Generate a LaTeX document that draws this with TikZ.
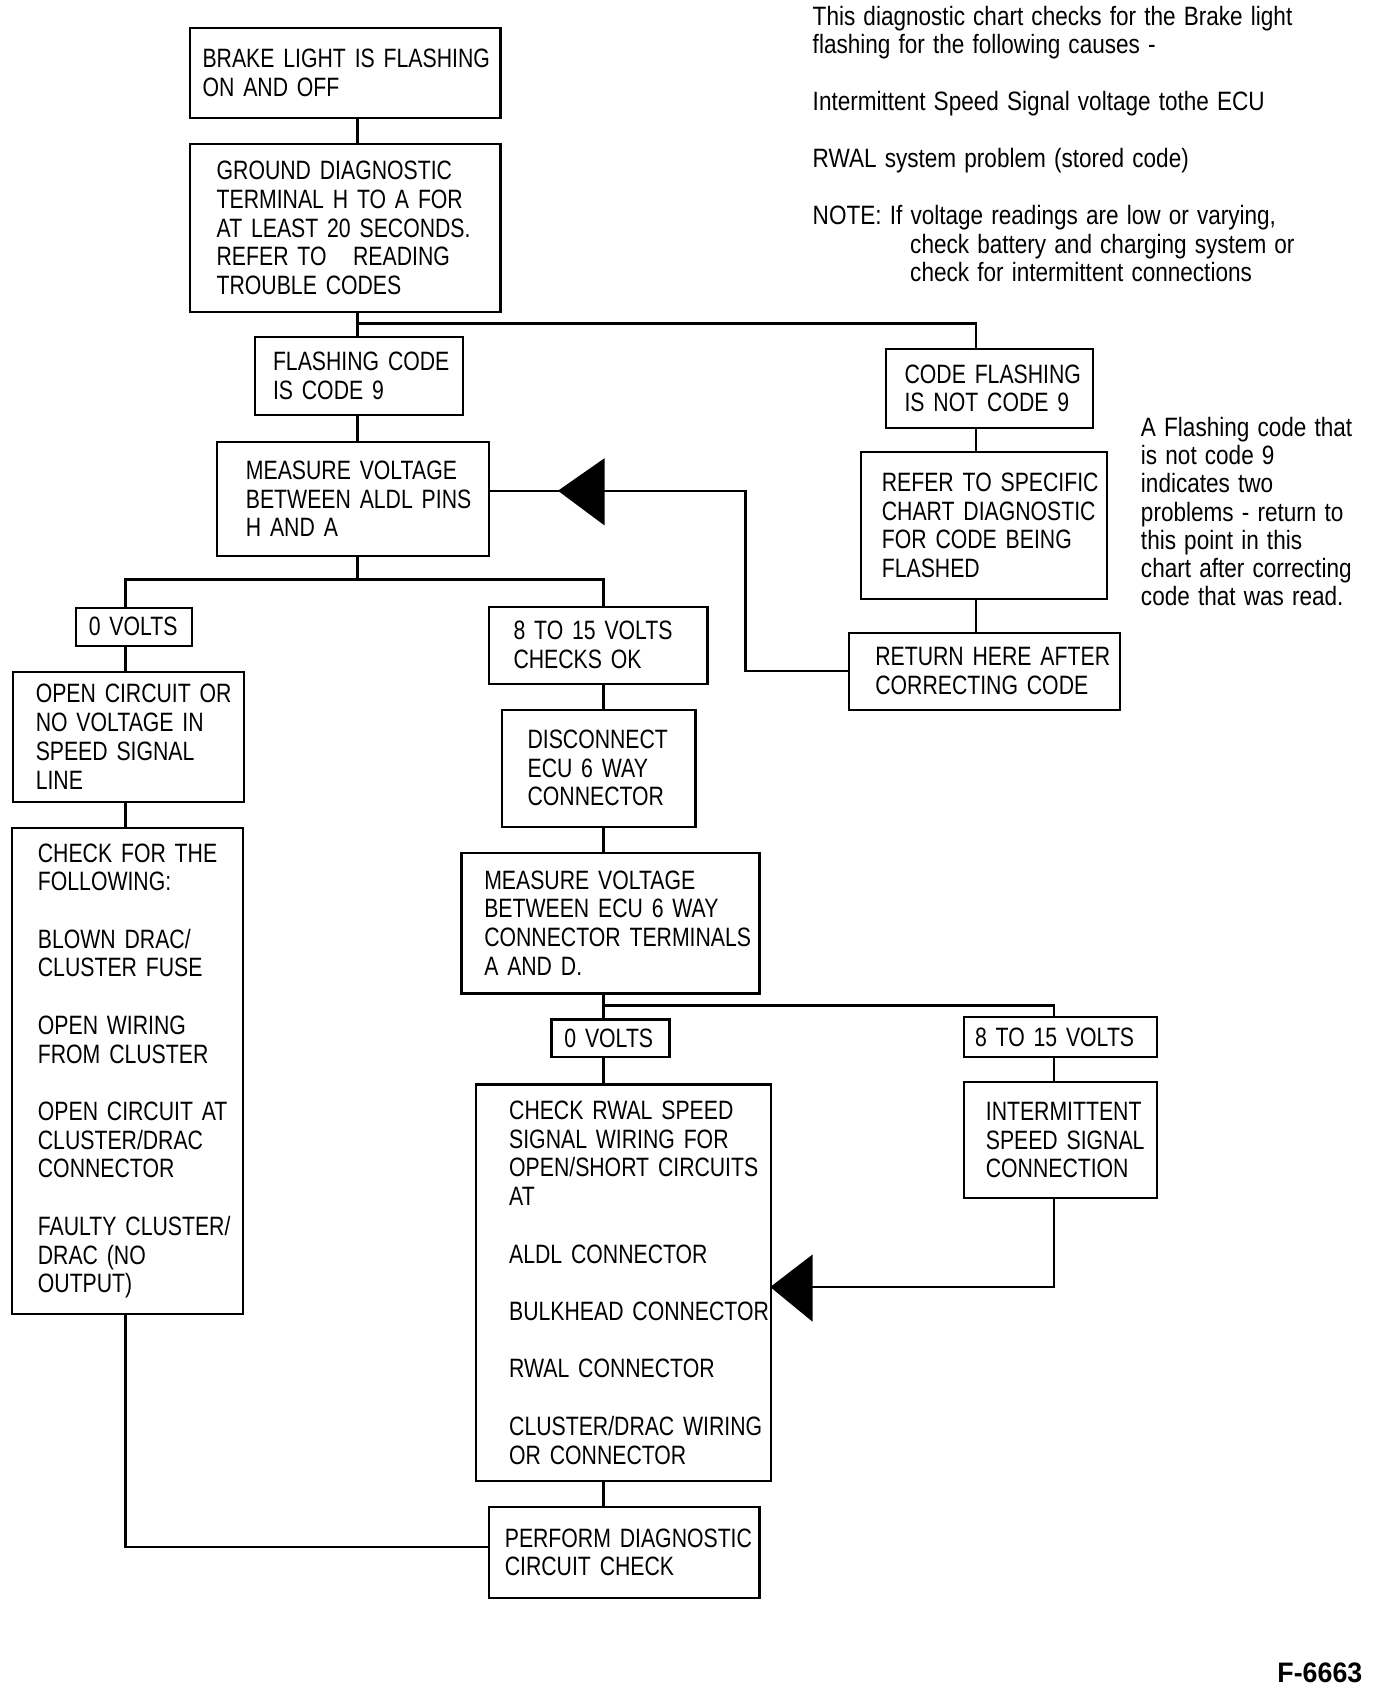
\documentclass[tikz,border=0pt]{standalone}
\usepackage{fontspec}
\setmainfont{Liberation Sans}[FakeStretch=0.8]
\newfontfamily\figfont{Liberation Sans}[FakeStretch=0.95]
\newfontfamily\notefont{Liberation Sans}[FakeStretch=0.85, WordSpace=1.3]
\newcommand\Ln[1]{\mbox{#1}}
\begin{document}
\begin{tikzpicture}[x=1pt,y=-1pt,
 box/.style={draw, line width=2pt, anchor=north west, align=left, inner xsep=0pt, inner ysep=0pt, font=\fontsize{24.5}{26.5}\selectfont},
 wire/.style={line width=2.2pt},
 note/.style={anchor=base west, align=left, inner sep=0pt, font=\notefont\fontsize{24.5}{26.3}\selectfont}]
\fill[white] (0,0) rectangle (1270,1560);
\useasboundingbox (0,0) rectangle (1270,1560);

% boxes
\node[box, minimum width=287pt, minimum height=83pt, text width=263pt] (b1) at (174,25) {\Ln{BRAKE LIGHT IS FLASHING}\\\Ln{ON AND OFF}};
\node[box, minimum width=287pt, minimum height=155pt, text width=237pt] (b2) at (174,132) {\Ln{GROUND DIAGNOSTIC}\\\Ln{TERMINAL H TO A FOR}\\\Ln{AT LEAST 20 SECONDS.}\\\Ln{REFER TO \ \ READING}\\\Ln{TROUBLE CODES}};
\node[box, minimum width=192pt, minimum height=72pt, text width=158pt] (b3) at (234,310) {\Ln{FLASHING CODE}\\\Ln{IS CODE 9}};
\node[box, minimum width=251pt, minimum height=105pt, text width=197pt] (b4) at (199,407) {\Ln{MEASURE VOLTAGE}\\\Ln{BETWEEN ALDL PINS}\\\Ln{H AND A}};
\node[box, minimum width=107pt, minimum height=35pt, text width=83pt] (b5) at (69,560) {\Ln{0 VOLTS}};
\node[box, minimum width=213pt, minimum height=120pt, text width=171pt] (b6) at (11,619) {\Ln{OPEN CIRCUIT OR}\\\Ln{NO VOLTAGE IN}\\\Ln{SPEED SIGNAL}\\\Ln{LINE}};
\node[box, minimum width=213pt, minimum height=449pt, text width=165pt] (b7) at (10,763) {\Ln{CHECK FOR THE}\\\Ln{FOLLOWING:}\\[26.5pt]\Ln{BLOWN DRAC/}\\\Ln{CLUSTER FUSE}\\[26.5pt]\Ln{OPEN WIRING}\\\Ln{FROM CLUSTER}\\[26.5pt]\Ln{OPEN CIRCUIT AT}\\\Ln{CLUSTER/DRAC}\\\Ln{CONNECTOR}\\[26.5pt]\Ln{FAULTY CLUSTER/}\\\Ln{DRAC (NO}\\\Ln{OUTPUT)}};
\node[box, minimum width=202pt, minimum height=71pt, text width=156pt] (b8) at (450,559) {\Ln{8 TO 15 VOLTS}\\\Ln{CHECKS OK}};
\node[box, minimum width=179pt, minimum height=108pt, text width=131pt] (b9) at (462,654) {\Ln{DISCONNECT}\\\Ln{ECU 6 WAY}\\\Ln{CONNECTOR}};
\node[box, minimum width=275pt, minimum height=130pt, text width=233pt] (b10) at (425,786) {\Ln{MEASURE VOLTAGE}\\\Ln{BETWEEN ECU 6 WAY}\\\Ln{CONNECTOR TERMINALS}\\\Ln{A AND D.}};
\node[box, minimum width=109pt, minimum height=35pt, text width=85pt] (b11) at (508,940) {\Ln{0 VOLTS}};
\node[box, minimum width=273pt, minimum height=366pt, text width=211pt] (b12) at (438,1000) {\Ln{CHECK RWAL SPEED}\\\Ln{SIGNAL WIRING FOR}\\\Ln{OPEN/SHORT CIRCUITS}\\\Ln{AT}\\[26.5pt]\Ln{ALDL CONNECTOR}\\[26.5pt]\Ln{BULKHEAD CONNECTOR}\\[26.5pt]\Ln{RWAL CONNECTOR}\\[26.5pt]\Ln{CLUSTER/DRAC WIRING}\\\Ln{OR CONNECTOR}};
\node[box, minimum width=250pt, minimum height=84pt, text width=220pt] (b13) at (450,1390) {\Ln{PERFORM DIAGNOSTIC}\\\Ln{CIRCUIT CHECK}};
\node[box, minimum width=178pt, minimum height=37pt, text width=158pt] (b14) at (889,938) {\Ln{8 TO 15 VOLTS}};
\node[box, minimum width=178pt, minimum height=107pt, text width=138pt] (b15) at (889,998) {\Ln{INTERMITTENT}\\\Ln{SPEED SIGNAL}\\\Ln{CONNECTION}};
\node[box, minimum width=191pt, minimum height=73pt, text width=157pt] (b16) at (817,321) {\Ln{CODE FLASHING}\\\Ln{IS NOT CODE 9}};
\node[box, minimum width=227pt, minimum height=136pt, text width=189pt] (b17) at (794,416) {\Ln{REFER TO SPECIFIC}\\\Ln{CHART DIAGNOSTIC}\\\Ln{FOR CODE BEING}\\\Ln{FLASHED}};
\node[box, minimum width=250pt, minimum height=71pt, text width=202pt] (b18) at (783,583) {\Ln{RETURN HERE AFTER}\\\Ln{CORRECTING CODE}};

% notes (base anchor = baseline of the last line)
\node[note] (n1) at (750,260) {This diagnostic chart checks for the Brake light\\flashing for the following causes -\\[26.3pt]Intermittent Speed Signal voltage tothe ECU\\[26.3pt]RWAL system problem (stored code)\\[26.3pt]NOTE: If voltage readings are low or varying,\\\hspace*{90pt}check battery and charging system or\\\hspace*{90pt}check for intermittent connections};
\node[note, font=\notefont\fontsize{24.5}{26}\selectfont] (n2) at (1053,559) {A Flashing code that\\is not code 9\\indicates two\\problems - return to\\this point in this\\chart after correcting\\code that was read.};
\node[anchor=base west, inner sep=0pt, font=\figfont\bfseries\fontsize{26}{26}\selectfont] (fig) at (1179,1553.5) {F-6663};

% connector columns and junctions
\coordinate (cM) at (330,0);
\coordinate (cL) at (116,0);
\coordinate (cC) at (557,0);
\coordinate (cR) at (901,0);
\coordinate (cRR) at (973,0);
\coordinate (j1) at (330,298.5);
\coordinate (j2L) at (116,535);
\coordinate (j2R) at (557,535);
\coordinate (k1) at (688,453);
\coordinate (j3) at (557,928);
\coordinate (k2) at (973,1188);
\coordinate (j5) at (116,1428);

\draw[wire] (b1.south -| cM) -- (b2.north -| cM);
\draw[wire] (b2.south -| cM) -- (b3.north -| cM);
\draw[wire] (j1) -| (b16.north -| cR);
\draw[wire] (b16.south -| cR) -- (b17.north -| cR);
\draw[wire] (b17.south -| cR) -- (b18.north -| cR);
\draw[wire] (b18.west) -| (k1) -- (k1 -| b4.east);
\draw[wire] (b3.south -| cM) -- (b4.north -| cM);
\draw[wire] (b4.south -| cM) -- (cM |- j2L);
\draw[wire] (b5.north -| cL) -- (j2L) -- (j2R) -- (b8.north -| cC);
\draw[wire] (b5.south -| cL) -- (b6.north -| cL);
\draw[wire] (b6.south -| cL) -- (b7.north -| cL);
\draw[wire] (b7.south -| cL) -- (j5) -- (j5 -| b13.west);
\draw[wire] (b8.south -| cC) -- (b9.north -| cC);
\draw[wire] (b9.south -| cC) -- (b10.north -| cC);
\draw[wire] (b10.south -| cC) -- (b11.north -| cC);
\draw[wire] (j3) -| (b14.north -| cRR);
\draw[wire] (b11.south -| cC) -- (b12.north -| cC);
\draw[wire] (b12.south -| cC) -- (b13.north -| cC);
\draw[wire] (b14.south -| cRR) -- (b15.north -| cRR);
\draw[wire] (b15.south -| cRR) -- (k2) -- (k2 -| b12.east);

% big arrowheads
\fill (515,453) -- (558,423) -- (558,485) -- cycle;
\fill (711,1188) -- (750,1158) -- (750,1220) -- cycle;
\end{tikzpicture}
\end{document}
